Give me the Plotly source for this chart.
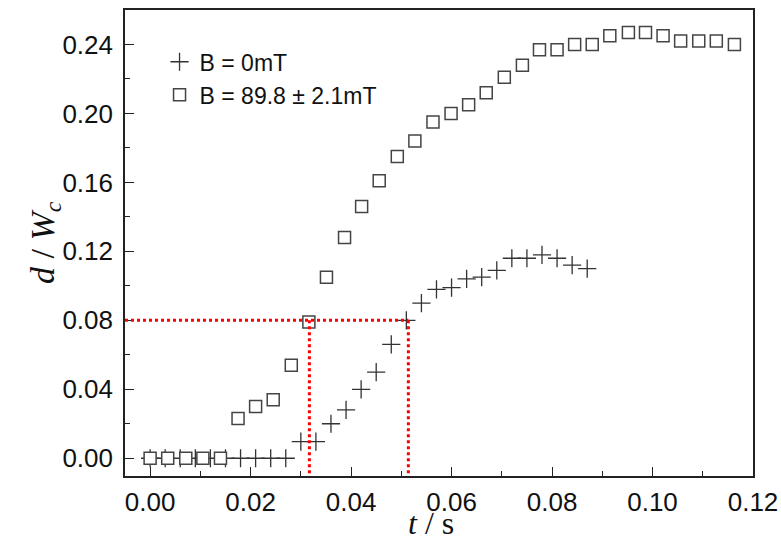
import plotly.graph_objects as go

# B = 0 mT series (crosses)
t_b0 = [0.000, 0.003, 0.006, 0.009, 0.012, 0.015, 0.018, 0.021, 0.024, 0.027,
        0.030, 0.033, 0.036, 0.039, 0.042, 0.045, 0.048, 0.051, 0.054, 0.057,
        0.060, 0.063, 0.066, 0.069, 0.072, 0.075, 0.078, 0.081, 0.084, 0.087]
d_b0 = [0.000, 0.000, 0.000, 0.000, 0.000, 0.000, 0.000, 0.000, 0.000, 0.000,
        0.0096, 0.0096, 0.020, 0.028, 0.040, 0.050, 0.066, 0.080, 0.090, 0.098,
        0.099, 0.104, 0.105, 0.109, 0.116, 0.116, 0.118, 0.116, 0.112, 0.110]

# B = 89.8 mT series (squares)
t_b1 = [0.0000, 0.0035, 0.0071, 0.0105, 0.0140, 0.0175, 0.0210, 0.0245, 0.0281, 0.0316,
        0.0351, 0.0387, 0.0421, 0.0456, 0.0492, 0.0527, 0.0563, 0.0599, 0.0634, 0.0669,
        0.0705, 0.0741, 0.0775, 0.0810, 0.0845, 0.0880, 0.0915, 0.0952, 0.0986, 0.1021,
        0.1056, 0.1092, 0.1127, 0.1163]
d_b1 = [0.000, 0.000, 0.000, 0.000, 0.000, 0.023, 0.030, 0.034, 0.054, 0.079,
        0.105, 0.128, 0.146, 0.161, 0.175, 0.184, 0.195, 0.200, 0.205, 0.212,
        0.221, 0.228, 0.237, 0.237, 0.240, 0.240, 0.245, 0.247, 0.247, 0.245,
        0.242, 0.242, 0.242, 0.240]

guide_level = 0.08
guide_times = [0.0317, 0.0514]

x_range = [-0.005, 0.12]
y_range = [-0.0103, 0.26]
x_ticks = [0.00, 0.02, 0.04, 0.06, 0.08, 0.10, 0.12]
y_ticks = [0.00, 0.04, 0.08, 0.12, 0.16, 0.20, 0.24]

names = ["B = 0mT", "B = 89.8 ± 2.1mT"]
x_title = "<i>t</i> / s"
y_title = "<i>d</i> / <i>W<sub>c</sub></i>"

fig = go.Figure()
fig.add_trace(go.Scatter(
    x=t_b0, y=d_b0, mode="markers", name=names[0],
    marker=dict(symbol="cross-thin-open", size=13, color="#333333",
                line=dict(width=1.3, color="#333333")),
))
fig.add_trace(go.Scatter(
    x=t_b1, y=d_b1, mode="markers", name=names[1],
    marker=dict(symbol="square", size=12, color="white",
                line=dict(width=1.5, color="#444444")),
))

red_line = dict(color="#ff0000", width=3, dash="3px,3px")
fig.add_shape(type="line", xref="x", yref="y", x0=x_range[0], x1=guide_times[1],
              y0=guide_level, y1=guide_level, line=red_line, layer="above")
for tg in guide_times:
    fig.add_shape(type="line", xref="x", yref="y", x0=tg, x1=tg,
                  y0=guide_level, y1=y_range[0], line=red_line, layer="above")

axis_common = dict(
    showline=True, linecolor="#222222", linewidth=1.6, mirror=True,
    ticks="inside", ticklen=9, tickwidth=1.3, tickcolor="#222222",
    showgrid=False, zeroline=False, automargin=False,
    tickfont=dict(family="Liberation Sans, Arial", size=26, color="#111111"),
)

fig.update_xaxes(
    range=x_range, tickvals=x_ticks, ticktext=[f"{v:.2f}" for v in x_ticks],
    minor=dict(ticks="inside", ticklen=5, tickwidth=1.3, tickcolor="#222222", dtick=0.01, tick0=0),
    ticklabelstandoff=2,
    **axis_common,
)
fig.update_yaxes(
    range=y_range, tickvals=y_ticks, ticktext=[f"{v:.2f}" for v in y_ticks],
    minor=dict(ticks="inside", ticklen=5, tickwidth=1.3, tickcolor="#222222", dtick=0.02, tick0=0),
    ticklabelstandoff=5,
    **axis_common,
)

title_font = dict(family="Liberation Serif, Times New Roman", size=32, color="#111111")
fig.add_annotation(text=x_title, xref="paper", yref="paper", x=0.487, y=0,
                   xanchor="center", yanchor="middle", yshift=-47,
                   showarrow=False, font=title_font)
fig.add_annotation(text=y_title, xref="paper", yref="paper", x=0, y=0.5,
                   xanchor="center", yanchor="middle", xshift=-80, textangle=-90,
                   showarrow=False, font=dict(title_font, size=34))

fig.update_layout(
    width=781, height=541,
    margin=dict(l=125, r=28, t=10, b=65),
    plot_bgcolor="white", paper_bgcolor="white",
    legend=dict(x=0.055, y=0.935, xanchor="left", yanchor="top",
                font=dict(family="Liberation Sans, Arial", size=23, color="#111111"),
                bgcolor="rgba(0,0,0,0)", itemwidth=30, tracegroupgap=0),
    showlegend=True,
)

fig.write_html("out.html", config={"displayModeBar": False},
               post_script="document.body.style.margin='0';document.body.style.overflow='hidden';")
